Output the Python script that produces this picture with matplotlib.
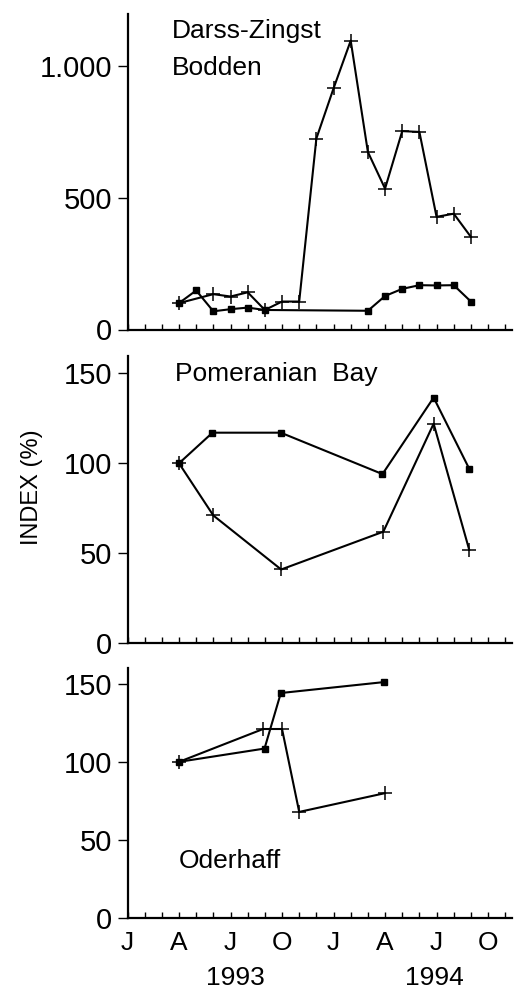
import matplotlib
matplotlib.use("Agg")
import matplotlib.pyplot as plt
from matplotlib.ticker import FixedLocator, MultipleLocator

plt.rcParams['font.family'] = ['Liberation Sans', 'DejaVu Sans']

# x in months since January 1993
# --- Darss-Zingst Bodden ---
dz_sq_x = [3, 4, 5, 6, 7, 8, 14, 15, 16, 17, 18, 19, 20]
dz_sq_y = [100, 148, 69, 77, 83, 74, 71, 127, 154, 168, 167, 168, 106]
dz_pl_x = [3, 5, 6, 7, 8, 9, 10, 11, 12, 13, 14, 15, 16, 17, 18, 19, 20]
dz_pl_y = [100, 134, 125, 141, 74, 106, 106, 724, 914, 1095, 673, 534, 752, 749, 427, 439, 351]

# --- Pomeranian Bay ---
pb_sq_x = [3, 4.95, 8.93, 14.85, 17.83, 19.9]
pb_sq_y = [100, 117, 117, 94, 136.5, 97]
pb_pl_x = [3, 5, 8.95, 14.9, 17.83, 19.9]
pb_pl_y = [100, 71, 41, 62, 122, 52]

# --- Oderhaff ---
od_sq_x = [3, 7.98, 8.93, 14.95]
od_sq_y = [100, 108.5, 144, 151]
od_pl_x = [3, 7.9, 9.0, 10.0, 15.0]
od_pl_y = [100, 121, 121, 68, 80]

month_labels = ['J', 'A', 'J', 'O', 'J', 'A', 'J', 'O']
month_label_pos = [0, 3, 6, 9, 12, 15, 18, 21]
years = ['1993', '1994']
year_pos = [6.27, 17.86]

W, H = 514, 990
fig = plt.figure(figsize=(W / 100, H / 100), dpi=100)

x_left_px = 127.5
px_per_month = 17.17
xmax = 22.4

def make_ax(top_px, bottom_px):
    width_px = xmax * px_per_month
    return fig.add_axes([x_left_px / W, 1 - bottom_px / H, width_px / W, (bottom_px - top_px) / H])

ax1 = make_ax(14, 329.5)
ax2 = make_ax(356, 643.3)
ax3 = make_ax(668.3, 918.3)

lw = 1.5
def draw(ax, sx, sy, px, py):
    ax.plot(px, py, color='black', lw=lw, marker='+', markersize=10, mew=1.1, zorder=3)
    ax.plot(sx, sy, color='black', lw=lw, marker='s', markersize=4.5, zorder=4)

draw(ax1, dz_sq_x, dz_sq_y, dz_pl_x, dz_pl_y)
draw(ax2, pb_sq_x, pb_sq_y, pb_pl_x, pb_pl_y)
draw(ax3, od_sq_x, od_sq_y, od_pl_x, od_pl_y)

ax1.set_ylim(0, 1196)
ax2.set_ylim(0, 159.6)
ax3.set_ylim(0, 159.8)

ax1.yaxis.set_major_locator(FixedLocator([0, 500, 1000]))
ax1.set_yticklabels(['0', '500', '1.000'])
for ax in (ax2, ax3):
    ax.yaxis.set_major_locator(FixedLocator([0, 50, 100, 150]))
    ax.set_yticklabels(['0', '50', '100', '150'])

for ax in (ax1, ax2, ax3):
    ax.set_xlim(0, xmax)
    for s in ('top', 'right'):
        ax.spines[s].set_visible(False)
    for s in ('left', 'bottom'):
        ax.spines[s].set_linewidth(1.6)
    ax.xaxis.set_major_locator(FixedLocator(month_label_pos))
    ax.xaxis.set_minor_locator(MultipleLocator(1))
    ax.tick_params(axis='x', which='both', direction='in', length=4, width=1.0)
    ax.tick_params(axis='y', which='major', direction='out', length=7, width=1.0,
                   labelsize=21, pad=4)
    ax.patch.set_alpha(0)

for ax in (ax1, ax2):
    ax.tick_params(axis='x', which='both', labelbottom=False)

ax3.set_xticklabels(month_labels)
ax3.tick_params(axis='x', which='major', labelsize=19, pad=9)

fig.text(172 / W, 1 - 31 / H, 'Darss-Zingst', fontsize=19, va='center', ha='left')
fig.text(172 / W, 1 - 68 / H, 'Bodden', fontsize=19, va='center', ha='left')
fig.text(175 / W, 1 - 374 / H, 'Pomeranian  Bay', fontsize=19, va='center', ha='left')
fig.text(179 / W, 1 - 861 / H, 'Oderhaff', fontsize=19, va='center', ha='left')

fig.text(32 / W, 1 - 487 / H, 'INDEX (%)', fontsize=17, rotation=90, va='center', ha='center')

for lbl, xp in zip(years, year_pos):
    fig.text((x_left_px + xp * px_per_month) / W, 1 - 978 / H, lbl, fontsize=19,
             ha='center', va='center')

fig.savefig('out.png', dpi=100)
